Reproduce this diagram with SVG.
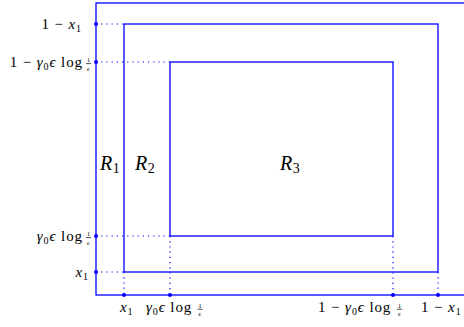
<svg xmlns="http://www.w3.org/2000/svg" width="464" height="327" viewBox="0 0 464 327" font-family="Liberation Serif, DejaVu Serif, serif">
<style>
.r{fill:none;stroke:#0000ff;stroke-width:1.3}
.d{stroke:#0000ff;stroke-width:1.2;stroke-dasharray:1.2,4}
.p{fill:#0000ff}
.bar{stroke:#000;stroke-width:0.7}
text{fill:#000;font-size:15px;letter-spacing:0.9px}
.i{font-style:italic}
.s{font-size:10px}
.R{font-size:20px;font-style:italic;letter-spacing:0}
.f{font-size:7px;letter-spacing:0}
.e{text-anchor:end}
.m{text-anchor:middle}
</style>
<rect width="464" height="327" fill="#fff"/>
<g id="regions">
<rect id="R1rect" class="r" x="96" y="3" width="380" height="292"/>
<rect id="R2rect" class="r" x="124" y="24" width="314" height="248"/>
<rect id="R3rect" class="r" x="170" y="62" width="223" height="174"/>
</g>
<g id="connectors">
<line class="d" x1="96" y1="24" x2="124" y2="24"/>
<line class="d" x1="96" y1="62" x2="170" y2="62"/>
<line class="d" x1="96" y1="236" x2="170" y2="236"/>
<line class="d" x1="96" y1="272" x2="124" y2="272"/>
<line class="d" x1="124" y1="272" x2="124" y2="295"/>
<line class="d" x1="170" y1="236" x2="170" y2="295"/>
<line class="d" x1="393" y1="236" x2="393" y2="295"/>
<line class="d" x1="438" y1="272" x2="438" y2="295"/>
</g>
<g id="ticks">
<circle class="p" cx="96" cy="24" r="2"/>
<circle class="p" cx="96" cy="62" r="2"/>
<circle class="p" cx="96" cy="236" r="2"/>
<circle class="p" cx="96" cy="272" r="2"/>
<circle class="p" cx="124" cy="295" r="2"/>
<circle class="p" cx="170" cy="295" r="2"/>
<circle class="p" cx="393" cy="295" r="2"/>
<circle class="p" cx="438" cy="295" r="2"/>
</g>
<g id="labels-left">
<text class="e" x="82" y="29">1 − <tspan class="i">x</tspan><tspan class="s" dy="3">1</tspan></text>
<text class="e" x="83" y="67">1 − <tspan class="i">γ</tspan><tspan class="s" dy="3">0</tspan><tspan class="i" dy="-3">ϵ</tspan> log</text>
<text class="f m" x="88.5" y="62">1</text>
<line class="bar" x1="86" y1="63.6" x2="91" y2="63.6"/>
<text class="f i m" x="88.5" y="70.5">ϵ</text>
<text class="e" x="83" y="241"><tspan class="i">γ</tspan><tspan class="s" dy="3">0</tspan><tspan class="i" dy="-3">ϵ</tspan> log</text>
<text class="f m" x="88.5" y="236">1</text>
<line class="bar" x1="86" y1="237.6" x2="91" y2="237.6"/>
<text class="f i m" x="88.5" y="244.5">ϵ</text>
<text class="e" x="89" y="277"><tspan class="i">x</tspan><tspan class="s" dy="3">1</tspan></text>
</g>
<g id="labels-bottom">
<text x="120" y="312"><tspan class="i">x</tspan><tspan class="s" dy="3">1</tspan></text>
<text x="146" y="312"><tspan class="i">γ</tspan><tspan class="s" dy="3">0</tspan><tspan class="i" dy="-3">ϵ</tspan> log</text>
<text class="f m" x="200" y="307.5">1</text>
<line class="bar" x1="197.5" y1="309.2" x2="202.5" y2="309.2"/>
<text class="f i m" x="200" y="316">ϵ</text>
<text x="318" y="312">1 − <tspan class="i">γ</tspan><tspan class="s" dy="3">0</tspan><tspan class="i" dy="-3">ϵ</tspan> log</text>
<text class="f m" x="399.5" y="307.5">1</text>
<line class="bar" x1="397" y1="309.2" x2="402" y2="309.2"/>
<text class="f i m" x="399.5" y="316">ϵ</text>
<text x="421" y="312">1 − <tspan class="i">x</tspan><tspan class="s" dy="3">1</tspan></text>
</g>
<g id="R1"><text class="R" x="100" y="170">R<tspan font-style="normal" font-size="14" dx="0.5" dy="3">1</tspan></text></g>
<g id="R2"><text class="R" x="135" y="170">R<tspan font-style="normal" font-size="14" dx="0.5" dy="3">2</tspan></text></g>
<g id="R3"><text class="R" x="280" y="170">R<tspan font-style="normal" font-size="14" dx="0.5" dy="3">3</tspan></text></g>
</svg>
